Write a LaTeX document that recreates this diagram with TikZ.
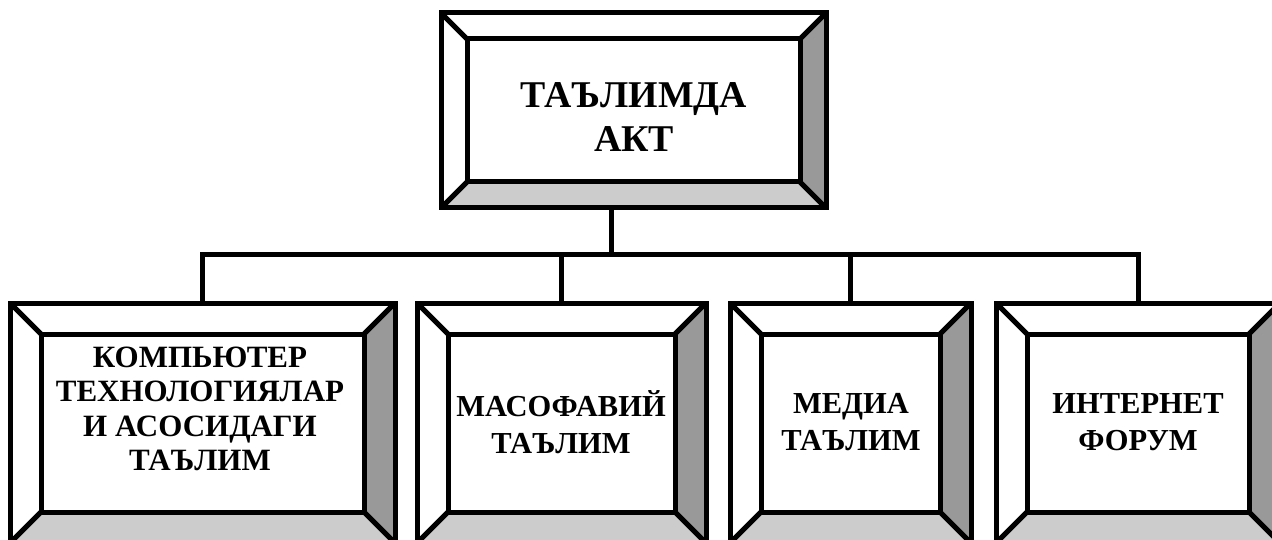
\documentclass[tikz,border=0pt]{standalone}
\usepackage{fontspec}
\setmainfont{Liberation Serif}
\usetikzlibrary{calc}
\definecolor{bevdark}{gray}{0.6}
\definecolor{bevlight}{gray}{0.8}
\tikzset{
  boxline/.style={line width=5pt, line join=miter},
  conn/.style={line width=5pt, line join=miter},
  frame/.style={inner sep=0pt, outer sep=0pt},
  toptext/.style={align=center, font=\bfseries\fontsize{37.8}{44}\selectfont},
  lowtext/.style={align=center, font=\bfseries\fontsize{30.5}{37}\selectfont},
  lowtextsmall/.style={align=center, font=\bfseries\fontsize{31}{34.3}\selectfont},
}
% name, x1, y1, x2, y2, bevel
\newcommand\bevbox[6]{%
  \node[frame, minimum width={(#4-#2)*1pt}, minimum height={(#5-#3)*1pt}] (#1) at ({(#2+#4)/2},{(#3+#5)/2}) {};
  \coordinate (#1-ia) at ($(#1.north west)+(#6,#6)$);
  \coordinate (#1-ib) at ($(#1.north east)+(-#6,#6)$);
  \coordinate (#1-ic) at ($(#1.south east)+(-#6,-#6)$);
  \coordinate (#1-id) at ($(#1.south west)+(#6,-#6)$);
  \fill[bevdark] (#1.north east) -- (#1.south east) -- (#1-ic) -- (#1-ib) -- cycle;
  \fill[bevlight] (#1.south west) -- (#1.south east) -- (#1-ic) -- (#1-id) -- cycle;
  \draw[boxline] (#1.north west) rectangle (#1.south east);
  \draw[boxline] (#1-ia) rectangle (#1-ic);
  \draw[boxline] (#1.north west) -- (#1-ia) (#1.north east) -- (#1-ib)
                 (#1.south east) -- (#1-ic) (#1.south west) -- (#1-id);
}
\begin{document}
\begin{tikzpicture}[x=1pt, y=-1pt]
  \useasboundingbox (0,0) rectangle (1272,540);
  \clip (0,0) rectangle (1272,540);

  \bevbox{top}{441}{13}{826}{208}{26}
  \bevbox{b1}{10}{303}{395}{543}{31}
  \bevbox{b2}{417}{303}{706}{543}{31}
  \bevbox{b3}{730}{303}{971}{543}{31}
  \bevbox{b4}{996}{303}{1280}{543}{31}

  \coordinate (stem) at (611,255);
  \draw[conn] (top.south -| stem) -- (stem);
  \draw[conn] (b1.north) |- (stem) -| (b4.north);
  \draw[conn] (b2.north) -- (b2.north |- stem);
  \draw[conn] (b3.north) -- (b3.north |- stem);

  \node[toptext] (ttop) at (634,117) {ТАЪЛИМДА\\АКТ};
  \node[lowtextsmall] (tb1) at (200,409) {КОМПЬЮТЕР\\ТЕХНОЛОГИЯЛАР\\И АСОСИДАГИ\\ТАЪЛИМ};
  \node[lowtext] (tb2) at (561,422) {МАСОФАВИЙ\\ТАЪЛИМ};
  \node[lowtext] (tb3) at (851,422) {МЕДИА\\ТАЪЛИМ};
  \node[lowtext] (tb4) at (1138,422) {ИНТЕРНЕТ\\ФОРУМ};
\end{tikzpicture}
\end{document}
